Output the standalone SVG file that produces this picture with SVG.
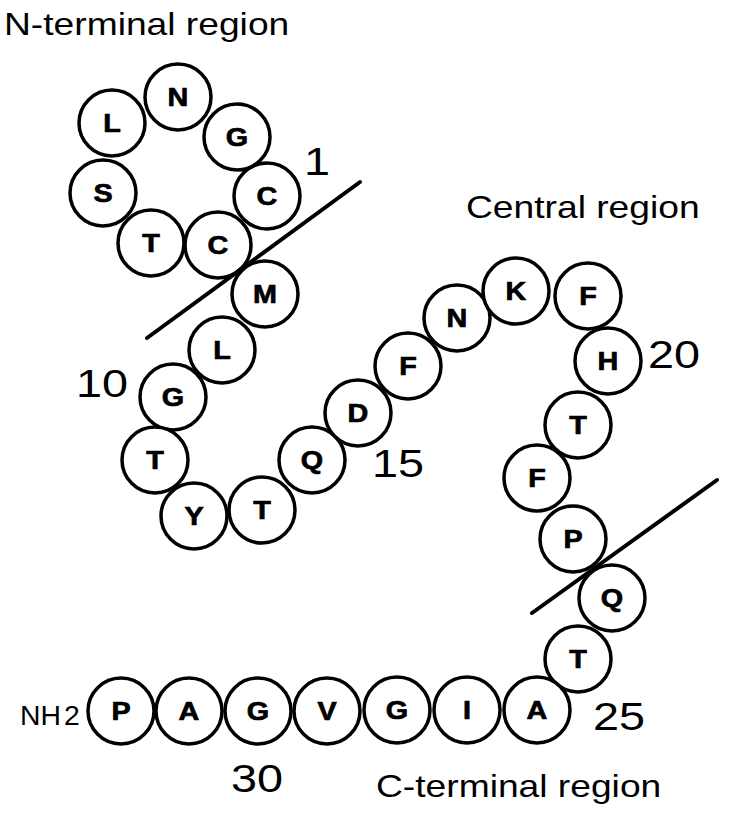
<svg xmlns="http://www.w3.org/2000/svg" width="750" height="814" viewBox="0 0 750 814">
<style>
  .res circle { fill: #fff; stroke: #000; stroke-width: 3.5; }
  .res text { font-family: "Liberation Sans", Arial, sans-serif; font-weight: bold; font-size: 25px; text-anchor: middle; fill: #000; stroke: #000; stroke-width: 0.7; }
  .title { font-family: "Liberation Sans", Arial, sans-serif; font-size: 31px; fill: #000; }
  .num { font-family: "Liberation Sans", Arial, sans-serif; font-size: 39px; fill: #000; text-anchor: middle; }
  .nh { font-family: "Liberation Sans", Arial, sans-serif; font-size: 27px; fill: #000; }
  .sep { stroke: #000; stroke-width: 4; stroke-linecap: round; fill: none; }
</style>
<rect width="750" height="814" fill="#fff"/>

<g id="labels">
  <text class="title" transform="translate(4,35) scale(1.2,1)">N-terminal region</text>
  <text class="title" transform="translate(466,218) scale(1.2,1)">Central region</text>
  <text class="title" transform="translate(376,797) scale(1.2,1)">C-terminal region</text>
  <text class="num" transform="translate(317,175) scale(1.2,1)">1</text>
  <text class="num" transform="translate(102,397) scale(1.2,1)">10</text>
  <text class="num" transform="translate(398,477) scale(1.2,1)">15</text>
  <text class="num" transform="translate(674,368) scale(1.2,1)">20</text>
  <text class="num" transform="translate(619,730) scale(1.2,1)">25</text>
  <text class="num" transform="translate(257,792) scale(1.2,1)">30</text>
  <text class="nh" transform="translate(20,725) scale(1.05,1)">NH<tspan dx="3">2</tspan></text>
</g>

<g id="r1" class="res"><circle cx="267" cy="196" r="33"/><text transform="translate(267,205) scale(1.15,1)">C</text></g>
<g id="r2" class="res"><circle cx="237" cy="137" r="33"/><text transform="translate(237,146) scale(1.15,1)">G</text></g>
<g id="r3" class="res"><circle cx="178" cy="97" r="33"/><text transform="translate(178,106) scale(1.15,1)">N</text></g>
<g id="r4" class="res"><circle cx="112" cy="123" r="33"/><text transform="translate(112,132) scale(1.15,1)">L</text></g>
<g id="r5" class="res"><circle cx="103" cy="193" r="33"/><text transform="translate(103,202) scale(1.15,1)">S</text></g>
<g id="r6" class="res"><circle cx="151" cy="243" r="33"/><text transform="translate(151,252) scale(1.15,1)">T</text></g>
<g id="r7" class="res"><circle cx="218" cy="245" r="33"/><text transform="translate(218,254) scale(1.15,1)">C</text></g>
<g id="r8" class="res"><circle cx="265" cy="294" r="33"/><text transform="translate(265,303) scale(1.15,1)">M</text></g>
<g id="r9" class="res"><circle cx="222" cy="350" r="33"/><text transform="translate(222,359) scale(1.15,1)">L</text></g>
<g id="r10" class="res"><circle cx="173" cy="397" r="33"/><text transform="translate(173,406) scale(1.15,1)">G</text></g>
<g id="r11" class="res"><circle cx="155" cy="460" r="33"/><text transform="translate(155,469) scale(1.15,1)">T</text></g>
<g id="r12" class="res"><circle cx="194" cy="516" r="33"/><text transform="translate(194,525) scale(1.15,1)">Y</text></g>
<g id="r13" class="res"><circle cx="262" cy="510" r="33"/><text transform="translate(262,519) scale(1.15,1)">T</text></g>
<g id="r14" class="res"><circle cx="312" cy="460" r="33"/><text transform="translate(312,469) scale(1.15,1)">Q</text></g>
<g id="r15" class="res"><circle cx="358" cy="413" r="33"/><text transform="translate(358,422) scale(1.15,1)">D</text></g>
<g id="r16" class="res"><circle cx="408" cy="366" r="33"/><text transform="translate(408,375) scale(1.15,1)">F</text></g>
<g id="r17" class="res"><circle cx="457" cy="318" r="33"/><text transform="translate(457,327) scale(1.15,1)">N</text></g>
<g id="r18" class="res"><circle cx="516" cy="291" r="33"/><text transform="translate(516,300) scale(1.15,1)">K</text></g>
<g id="r19" class="res"><circle cx="588" cy="296" r="33"/><text transform="translate(588,305) scale(1.15,1)">F</text></g>
<g id="r20" class="res"><circle cx="608" cy="361" r="33"/><text transform="translate(608,370) scale(1.15,1)">H</text></g>
<g id="r21" class="res"><circle cx="578" cy="425" r="33"/><text transform="translate(578,434) scale(1.15,1)">T</text></g>
<g id="r22" class="res"><circle cx="537" cy="478" r="33"/><text transform="translate(537,487) scale(1.15,1)">F</text></g>
<g id="r23" class="res"><circle cx="573" cy="539" r="33"/><text transform="translate(573,548) scale(1.15,1)">P</text></g>
<g id="r24" class="res"><circle cx="612" cy="598" r="33"/><text transform="translate(612,607) scale(1.15,1)">Q</text></g>
<g id="r25" class="res"><circle cx="578" cy="659" r="33"/><text transform="translate(578,668) scale(1.15,1)">T</text></g>
<g id="r26" class="res"><circle cx="537" cy="710" r="33"/><text transform="translate(537,719) scale(1.15,1)">A</text></g>
<g id="r27" class="res"><circle cx="467" cy="710" r="33"/><text transform="translate(467,719) scale(1.15,1)">I</text></g>
<g id="r28" class="res"><circle cx="397" cy="710" r="33"/><text transform="translate(397,719) scale(1.15,1)">G</text></g>
<g id="r29" class="res"><circle cx="327" cy="711" r="33"/><text transform="translate(327,720) scale(1.15,1)">V</text></g>
<g id="r30" class="res"><circle cx="258" cy="711" r="33"/><text transform="translate(258,720) scale(1.15,1)">G</text></g>
<g id="r31" class="res"><circle cx="189" cy="711" r="33"/><text transform="translate(189,720) scale(1.15,1)">A</text></g>
<g id="r32" class="res"><circle cx="121" cy="711" r="33"/><text transform="translate(121,720) scale(1.15,1)">P</text></g>

<g id="connectors">
  <line class="sep" x1="147" y1="338" x2="360" y2="182"/>
  <line class="sep" x1="532" y1="613" x2="717" y2="480"/>
</g>
</svg>
